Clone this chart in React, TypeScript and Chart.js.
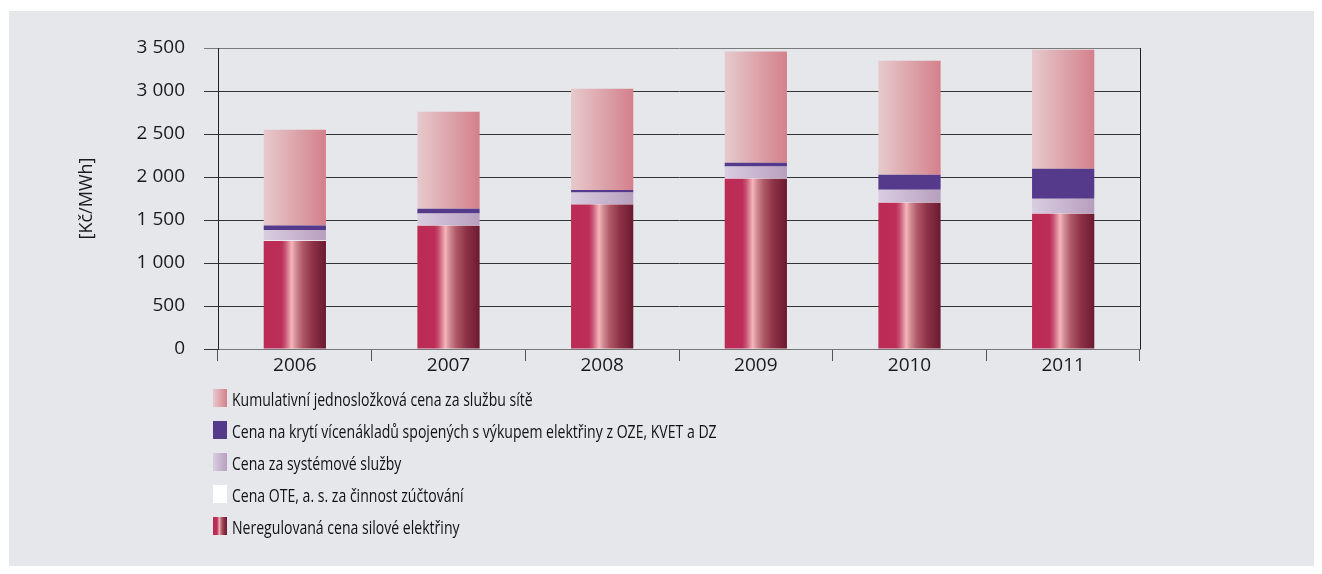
import React, { useEffect, useRef } from "react";
import { Chart, registerables } from "chart.js";

Chart.register(...registerables);

const years = ["2006", "2007", "2008", "2009", "2010", "2011"];
const silovaElektrina = [1257, 1432, 1680, 1979, 1700, 1572];
const oteCena = [4, 4, 4, 4, 4, 4];
const systemoveSluzby = [124, 139, 136, 139, 147, 170];
const ozeKvetDz = [50, 55, 30, 43, 175, 349];
const sluzbaSite = [1115, 1130, 1176, 1293, 1327, 1385];
const yTicks = [0, 500, 1000, 1500, 2000, 2500, 3000, 3500];

const legendLabels = [
  "Kumulativní jednosložková cena za službu sítě",
  "Cena na krytí vícenákladů spojených s výkupem elektřiny z OZE, KVET a DZ",
  "Cena za systémové služby",
  "Cena OTE, a. s. za činnost zúčtování",
  "Neregulovaná cena silové elektřiny",
];

const BAR_PCT = 0.405;
const FONT = '"Open Sans", "Noto Sans", sans-serif';

const redStops: [number, string][] = [
  [0, "#bb2b56"],
  [0.28, "#bc2d57"],
  [0.34, "#c65070"],
  [0.45, "#f4b6ba"],
  [0.52, "#d08a92"],
  [0.62, "#b05a68"],
  [0.78, "#8e3248"],
  [1, "#6b1a30"],
];
const netStops: [number, string][] = [
  [0, "#e6cacd"],
  [1, "#d4808b"],
];
const sysStops: [number, string][] = [
  [0, "#d9cde1"],
  [1, "#b79fbe"],
];

function cssGrad(stops: [number, string][]) {
  return `linear-gradient(to right, ${stops.map(([o, c]) => `${c} ${o * 100}%`).join(", ")})`;
}

function barGradient(stops: [number, string][]) {
  return (c: any) => {
    const chart = c.chart;
    const xs = chart.scales && chart.scales.x;
    if (!chart.chartArea || !xs) return stops[0][1];
    const cx = xs.getPixelForValue(c.dataIndex);
    const w = (xs.width / years.length) * BAR_PCT;
    const g = chart.ctx.createLinearGradient(cx - w / 2, 0, cx + w / 2, 0);
    stops.forEach(([o, col]) => g.addColorStop(o, col));
    return g;
  };
}

const framePlugin = {
  id: "frame",
  afterDatasetsDraw(chart: any) {
    const { ctx, chartArea } = chart;
    const x = Math.round(chartArea.right) + 0.5;
    ctx.save();
    ctx.strokeStyle = "#222";
    ctx.lineWidth = 1;
    ctx.beginPath();
    ctx.moveTo(x, chartArea.top);
    ctx.lineTo(x, chartArea.bottom);
    ctx.stroke();
    ctx.restore();
  },
};

export default function App() {
  const ref = useRef<HTMLCanvasElement>(null);

  useEffect(() => {
    if (!ref.current) return;
    const chart = new Chart(ref.current, {
      type: "bar",
      data: {
        labels: years,
        datasets: [
          { label: legendLabels[4], data: silovaElektrina, backgroundColor: barGradient(redStops) },
          { label: legendLabels[3], data: oteCena, backgroundColor: "#ffffff" },
          { label: legendLabels[2], data: systemoveSluzby, backgroundColor: barGradient(sysStops) },
          { label: legendLabels[1], data: ozeKvetDz, backgroundColor: "#553a8c" },
          { label: legendLabels[0], data: sluzbaSite, backgroundColor: barGradient(netStops) },
        ] as any,
      },
      options: {
        animation: false,
        responsive: false,
        maintainAspectRatio: false,
        layout: { padding: { top: 37, right: 174, left: 60, bottom: 0 } },
        datasets: { bar: { barPercentage: BAR_PCT, categoryPercentage: 1, borderWidth: 0 } },
        plugins: { legend: { display: false }, tooltip: { enabled: false } },
        scales: {
          x: {
            stacked: true,
            afterFit: (s: any) => {
              s.height = 217;
            },
            grid: {
              offset: true,
              drawOnChartArea: false,
              drawTicks: true,
              tickLength: 12,
              color: "#555",
            },
            border: { color: "#777" },
            ticks: { font: { family: FONT, size: 19 }, color: "#1a1a1a", padding: -7 },
          },
          y: {
            stacked: true,
            min: 0,
            max: 3500,
            afterFit: (s: any) => {
              s.width = 149;
            },
            afterBuildTicks: (s: any) => {
              s.ticks = yTicks.map((v) => ({ value: v }));
            },
            grid: {
              tickLength: 14,
              color: (c: any) => (c.tick && c.tick.value === 3500 ? "#7a7a7a" : "#333"),
            },
            border: { color: "#222" },
            ticks: {
              font: { family: FONT, size: 19 },
              color: "#1a1a1a",
              padding: 19,
              callback: (v: any) => String(v).replace(/\B(?=(\d{3})+(?!\d))/g, " "),
            },
            title: {
              display: true,
              text: "[Kč/MWh]",
              font: { family: FONT, size: 18 },
              color: "#1a1a1a",
              padding: { top: 7, bottom: 0 },
            },
          },
        },
      },
      plugins: [framePlugin],
    });
    return () => chart.destroy();
  }, []);

  const boxStyles = [
    cssGrad(netStops),
    "#553a8c",
    cssGrad(sysStops),
    "#ffffff",
    cssGrad(redStops),
  ];

  return (
    <div
      style={{
        position: "absolute",
        left: 9,
        top: 11,
        width: 1305,
        height: 555,
        background: "#e5e7ea",
      }}
    >
      <canvas ref={ref} width={1305} height={555} style={{ display: "block", width: 1305, height: 555 }} />
      {legendLabels.map((t, i) => (
        <div
          key={t}
          style={{
            position: "absolute",
            left: 204,
            top: 387 + i * 32 - 14,
            height: 28,
            display: "flex",
            alignItems: "center",
            whiteSpace: "nowrap",
          }}
        >
          <div style={{ width: 14, height: 18, background: boxStyles[i], flex: "none" }} />
          <span
            style={{
              marginLeft: 5,
              fontFamily: FONT,
              fontSize: 18.5,
              color: "#111",
              display: "inline-block",
              transform: "scaleX(0.76)",
              transformOrigin: "left center",
            }}
          >
            {t}
          </span>
        </div>
      ))}
    </div>
  );
}
